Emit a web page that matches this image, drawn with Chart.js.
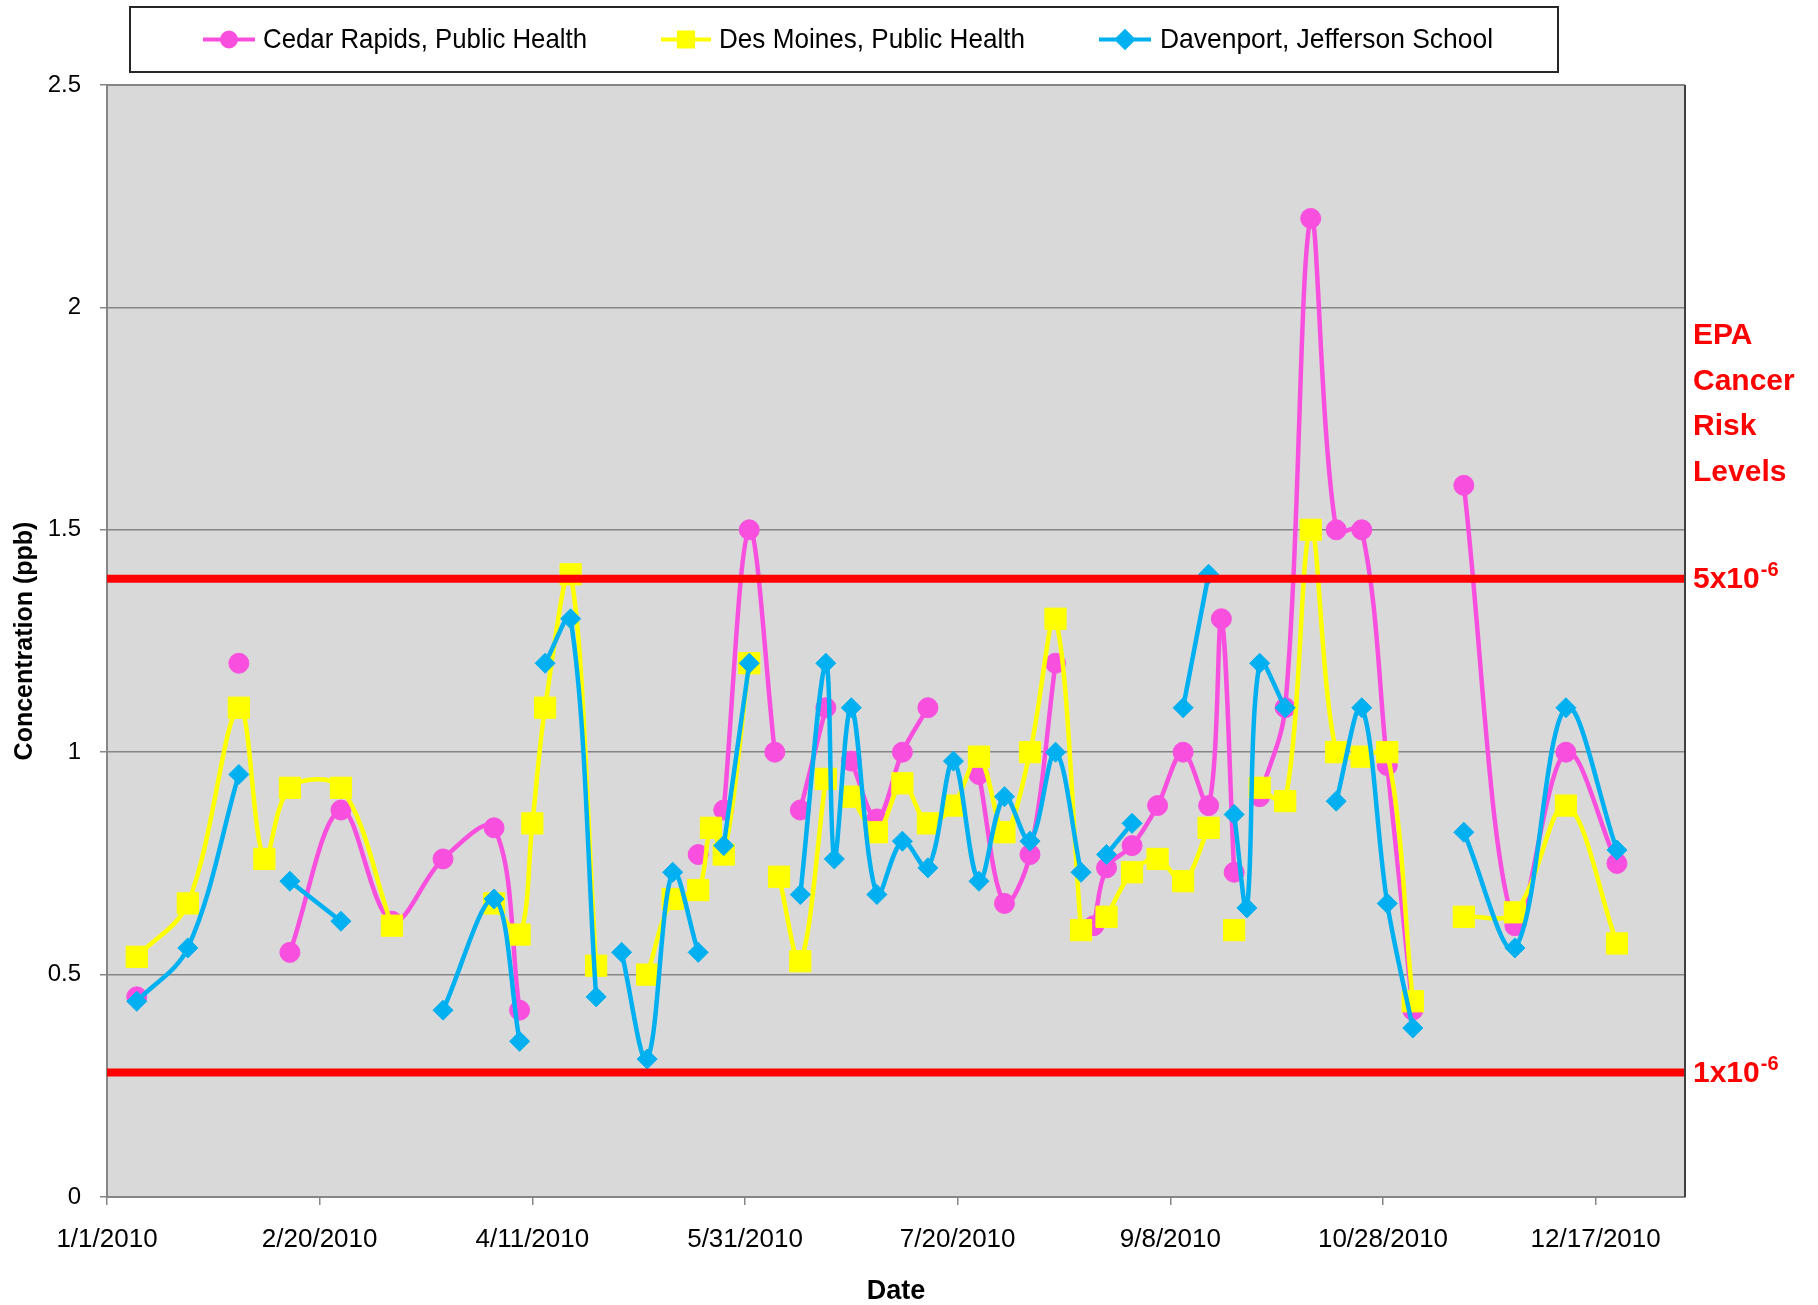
<!DOCTYPE html>
<html>
<head>
<meta charset="utf-8">
<script src="https://cdn.jsdelivr.net/npm/chart.js@4.4.0/dist/chart.umd.min.js"></script>
<style>
    html, body { margin: 0; padding: 0; background: #fff; }
    #wrap { width: 1818px; height: 1305px; position: relative; }
</style>
</head>
<body>
<div id="wrap"><canvas id="grafico"></canvas></div>
<script>
/* *****
Data (ppb), null = no sample that day
***** */

const sampleDates = [
    '1/8/2010', '1/20/2010', '2/1/2010', '2/7/2010', '2/13/2010', '2/25/2010', '3/9/2010', '3/21/2010', '4/2/2010', '4/8/2010',
    '4/11/2010', '4/14/2010', '4/20/2010', '4/26/2010', '4/29/2010', '5/2/2010', '5/8/2010', '5/14/2010', '5/20/2010', '5/23/2010',
    '5/26/2010', '6/1/2010', '6/7/2010', '6/8/2010', '6/13/2010', '6/19/2010', '6/21/2010', '6/25/2010', '7/1/2010', '7/7/2010',
    '7/13/2010', '7/19/2010', '7/25/2010', '7/31/2010', '8/6/2010', '8/12/2010', '8/18/2010', '8/21/2010', '8/24/2010', '8/30/2010',
    '9/5/2010', '9/11/2010', '9/17/2010', '9/20/2010', '9/23/2010', '9/26/2010', '9/29/2010', '10/5/2010', '10/11/2010', '10/17/2010',
    '10/23/2010', '10/29/2010', '11/4/2010', '11/10/2010', '11/16/2010', '11/28/2010', '12/10/2010', '12/22/2010'
];
const cedarRapids = [
    0.45, null, 1.2, null, 0.55, 0.87, 0.62, 0.76, 0.83, 0.42,
    null, null, null, null, null, null, null, null, 0.77, null,
    0.87, 1.5, 1.0, null, 0.87, 1.1, null, 0.98, 0.85, 1.0,
    1.1, null, 0.95, 0.66, 0.77, 1.2, null, 0.61, 0.74, 0.79,
    0.88, 1.0, 0.88, 1.3, 0.73, null, 0.9, 1.1, 2.2, 1.5,
    1.5, 0.97, 0.42, null, 1.6, 0.61, 1.0, 0.75
];
const desMoines = [
    0.54, 0.66, 1.1, 0.76, 0.92, 0.92, 0.61, null, 0.66, 0.59,
    0.84, 1.1, 1.4, 0.52, null, null, 0.5, 0.67, 0.69, 0.83,
    0.77, 1.2, null, 0.72, 0.53, 0.94, null, 0.9, 0.82, 0.93,
    0.84, 0.88, 0.99, 0.82, 1.0, 1.3, 0.6, null, 0.63, 0.73,
    0.76, 0.71, 0.83, null, 0.6, null, 0.92, 0.89, 1.5, 1.0,
    0.99, 1.0, 0.44, null, 0.63, 0.64, 0.88, 0.57
];
const davenport = [
    0.44, 0.56, 0.95, null, 0.71, 0.62, null, 0.42, 0.67, 0.35,
    null, 1.2, 1.3, 0.45, null, 0.55, 0.31, 0.73, 0.55, null,
    0.79, 1.2, null, null, 0.68, 1.2, 0.76, 1.1, 0.68, 0.8,
    0.74, 0.98, 0.71, 0.9, 0.8, 1.0, 0.73, null, 0.77, 0.84,
    null, 1.1, 1.4, null, 0.86, 0.65, 1.2, 1.1, null, 0.89,
    1.1, 0.66, 0.38, null, 0.82, 0.56, 1.1, 0.78
];

const seriesNames = ['Cedar Rapids, Public Health', 'Des Moines, Public Health', 'Davenport, Jefferson School'];
const riskLevels = [1.39, 0.28];
const riskLabels = ['5x10', '1x10'];
const riskTitle = ['EPA', 'Cancer', 'Risk', 'Levels'];
const yTicks = [0, 0.5, 1, 1.5, 2, 2.5];
const xStartDate = '1/1/2010';
const xEndDate = '1/7/2011';
const xTickStep = 50;

/* *****
date helpers: days counted from 1/1/2010
***** */

const BASE = Date.UTC(2010, 0, 1);
const dayOf = (s) => {
    const [m, d, y] = s.split('/').map(Number);
    return (Date.UTC(y, m - 1, d) - BASE) / 86400000;
}
const labelOf = (v) => {
    const dt = new Date(BASE + v * 86400000);
    return `${dt.getUTCMonth() + 1}/${dt.getUTCDate()}/${dt.getUTCFullYear()}`;
}
const toPoints = (values) => sampleDates.map((d, i) => ({ x: dayOf(d), y: values[i] }));

const FONT = "'Liberation Sans', Arial, sans-serif";
const colors = ['#F94FDE', '#FFFF00', '#00B0F0'];
const styles = [
    { pointStyle: 'circle', radius: 10, legendRadius: 7 },
    { pointStyle: 'rect', radius: 15, legendRadius: 10 },
    { pointStyle: 'rectRot', radius: 10, legendRadius: 8 }
];
const seriesValues = [cedarRapids, desMoines, davenport];
const drawOrder = [3, 2, 1];

/* *****
datasets
***** */

const datasets = seriesValues.map((vals, i) => ({
    label: seriesNames[i],
    data: toPoints(vals),
    borderColor: colors[i],
    backgroundColor: colors[i],
    pointBackgroundColor: colors[i],
    pointBorderColor: colors[i],
    pointBorderWidth: 1,
    pointStyle: styles[i].pointStyle,
    pointRadius: styles[i].radius,
    borderWidth: 4.5,
    tension: 0.35,
    spanGaps: false,
    order: drawOrder[i]
}));

riskLevels.forEach((lvl) => {
    datasets.push({
        label: 'risk ' + lvl,
        data: [{ x: dayOf(xStartDate), y: lvl }, { x: dayOf(xEndDate), y: lvl }],
        borderColor: '#FF0000',
        borderWidth: 8,
        pointRadius: 0,
        tension: 0,
        order: 0
    });
});

/* *****
plugins: plot background, legend box, red texts
***** */

const plotBackground = {
    id: 'plotBackground',
    beforeDraw: (chart) => {
        const { ctx, chartArea: a } = chart;
        ctx.save();
        ctx.fillStyle = '#D9D9D9';
        ctx.fillRect(a.left, a.top, a.right - a.left, a.bottom - a.top);
        ctx.restore();
    },
    afterDraw: (chart) => {
        const { ctx, chartArea: a } = chart;
        ctx.save();
        ctx.strokeStyle = '#868686';
        ctx.lineWidth = 2;
        ctx.beginPath();
        ctx.moveTo(a.left, a.top);
        ctx.lineTo(a.right, a.top);
        ctx.stroke();
        ctx.strokeStyle = '#404040';
        ctx.beginPath();
        ctx.moveTo(a.right, a.top);
        ctx.lineTo(a.right, a.bottom);
        ctx.stroke();
        ctx.restore();
    }
}

const fitText = (ctx, text, x, y, width) => {
    const w = ctx.measureText(text).width;
    ctx.save();
    ctx.translate(x, y);
    ctx.scale(width / w, 1);
    ctx.fillText(text, 0, 0);
    ctx.restore();
}

const legendItems = [
    { x1: 203, x2: 255, tx: 263, tw: 324 },
    { x1: 661, x2: 711, tx: 719, tw: 306 },
    { x1: 1099, x2: 1151, tx: 1160, tw: 333 }
];

const legendBox = {
    id: 'legendBox',
    afterDraw: (chart) => {
        const { ctx } = chart;
        ctx.save();
        ctx.fillStyle = '#fff';
        ctx.fillRect(130, 7, 1428, 65);
        ctx.strokeStyle = '#262626';
        ctx.lineWidth = 2;
        ctx.strokeRect(130, 7, 1428, 65);
        const y = 39.5;
        legendItems.forEach((it, i) => {
            ctx.strokeStyle = colors[i];
            ctx.fillStyle = colors[i];
            ctx.lineWidth = 4;
            ctx.beginPath();
            ctx.moveTo(it.x1, y);
            ctx.lineTo(it.x2, y);
            ctx.stroke();
            Chart.helpers.drawPoint(ctx, { pointStyle: styles[i].pointStyle, radius: styles[i].legendRadius, rotation: 0, borderWidth: 1 }, (it.x1 + it.x2) / 2, y);
            ctx.fillStyle = '#000';
            ctx.font = `28px ${FONT}`;
            ctx.textBaseline = 'middle';
            ctx.textAlign = 'left';
            fitText(ctx, seriesNames[i], it.tx, y + 1, it.tw);
        });
        ctx.restore();
    }
}

const riskText = {
    id: 'riskText',
    afterDraw: (chart) => {
        const { ctx, chartArea: a, scales } = chart;
        const x = a.right + 8;
        ctx.save();
        ctx.fillStyle = '#FF0000';
        ctx.textAlign = 'left';
        ctx.textBaseline = 'middle';
        ctx.font = `bold 30px ${FONT}`;
        const topY = scales.y.getPixelForValue(riskLevels[0]) - 243;
        riskTitle.forEach((t, i) => ctx.fillText(t, x, topY + i * 45.7));
        riskLevels.forEach((lvl, i) => {
            const y = scales.y.getPixelForValue(lvl) + 1;
            ctx.font = `bold 30px ${FONT}`;
            ctx.fillText(riskLabels[i], x, y);
            const w = ctx.measureText(riskLabels[i]).width;
            ctx.font = `bold 20px ${FONT}`;
            ctx.fillText('-6', x + w + 1, y - 9);
        });
        ctx.restore();
    }
}

/* *****
chart
***** */

Chart.defaults.font.family = FONT;

const config = {
    type: 'line',
    data: { datasets: datasets },
    options: {
        responsive: true,
        maintainAspectRatio: false,
        animation: false,
        events: [],
        layout: { padding: { left: 0, top: 85, right: 133, bottom: 0 } },
        plugins: {
            legend: { display: false },
            tooltip: { enabled: false }
        },
        scales: {
            x: {
                type: 'linear',
                min: dayOf(xStartDate),
                max: dayOf(xEndDate),
                afterFit: (s) => { s.height = 108; },
                ticks: {
                    stepSize: xTickStep,
                    includeBounds: false,
                    autoSkip: false,
                    maxRotation: 0,
                    padding: 19,
                    color: '#000',
                    font: { size: 26 },
                    callback: (v) => labelOf(v)
                },
                grid: { drawOnChartArea: false, drawTicks: true, tickLength: 8, color: '#868686', lineWidth: 1.5 },
                border: { color: '#868686', width: 2 },
                title: { display: true, text: 'Date', color: '#000', font: { size: 27, weight: 'bold', lineHeight: 1 }, padding: { top: 0, bottom: 0 } }
            },
            y: {
                min: yTicks[0],
                max: yTicks[yTicks.length - 1],
                afterFit: (s) => { s.width = 107; },
                afterBuildTicks: (s) => { s.ticks = yTicks.map((v) => ({ value: v })); },
                ticks: { color: '#000', padding: 19, font: { size: 24 }, callback: (v) => String(v) },
                grid: { color: '#868686', lineWidth: 1.5, tickLength: 7 },
                border: { color: '#868686', width: 2 },
                title: { display: true, text: 'Concentration (ppb)', color: '#000', font: { size: 25, weight: 'bold' }, padding: { top: 10, bottom: 0 } }
            }
        }
    },
    plugins: [plotBackground, legendBox, riskText]
};

const mychart = new Chart(document.getElementById('grafico'), config);
</script>
</body>
</html>
